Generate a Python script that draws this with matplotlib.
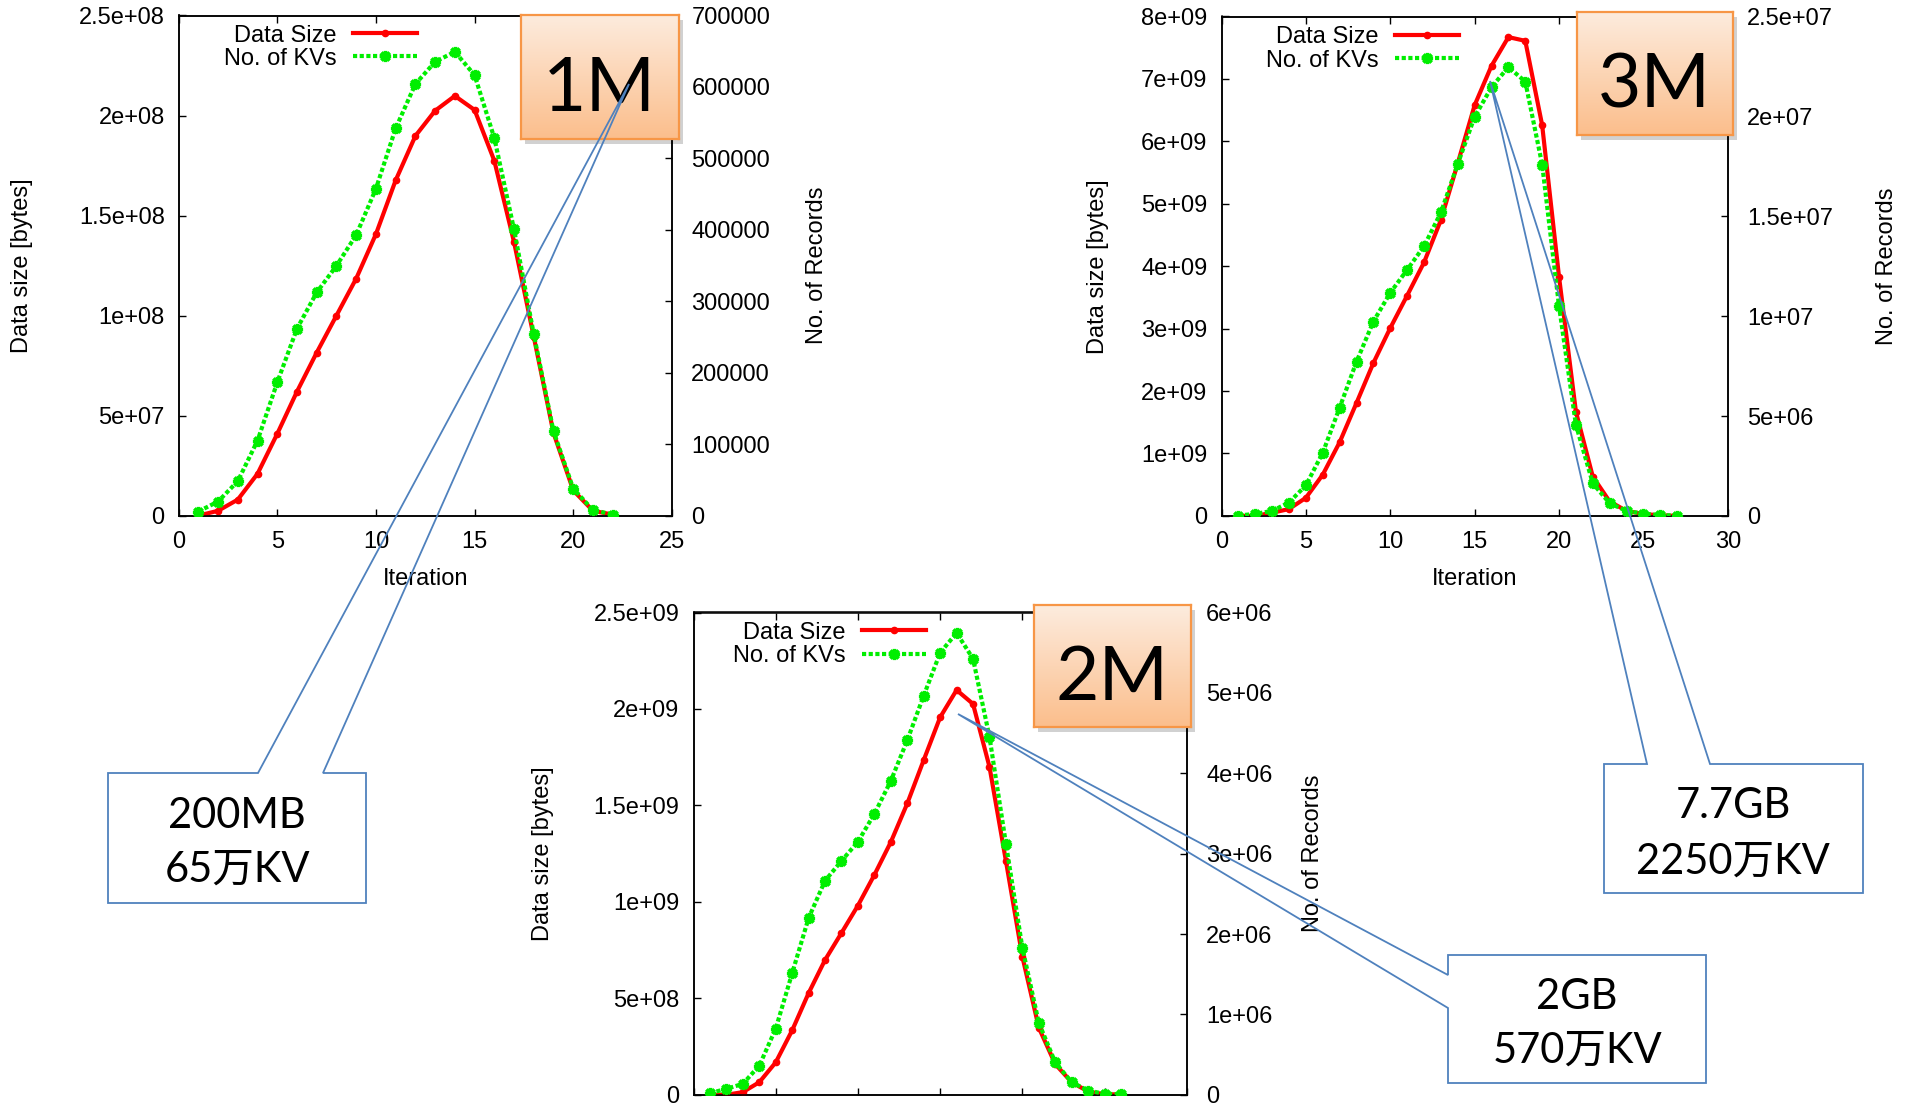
import matplotlib
matplotlib.use('Agg')
import matplotlib.pyplot as plt
import numpy as np
from matplotlib.patches import Polygon, Rectangle
from matplotlib.lines import Line2D

plt.rcParams['font.family'] = ['Liberation Sans', 'DejaVu Sans']

# ---------------- data ----------------
iter_1m = list(range(1, 23))
size_1m = [0.0, 2.4e6, 8.0e6, 2.09e7, 4.09e7, 6.2e7, 8.15e7, 1.0e8, 1.185e8, 1.407e8,
           1.676e8, 1.898e8, 2.024e8, 2.098e8, 2.028e8, 1.774e8, 1.367e8, 8.94e7,
           4.13e7, 1.26e7, 2.4e6, 0.5e6]
kv_1m = [5700, 19700, 48200, 105000, 186500, 261700, 312400, 349700, 392700, 457500,
         542000, 604100, 635200, 649200, 616600, 528500, 400500, 253900, 118100,
         37800, 7800, 1500]

iter_2m = list(range(1, 27))
size_2m = [0, 0, 0.014e9, 0.065e9, 0.168e9, 0.334e9, 0.527e9, 0.699e9, 0.839e9, 0.981e9,
           1.14e9, 1.31e9, 1.51e9, 1.735e9, 1.957e9, 2.098e9, 2.026e9, 1.70e9, 1.212e9,
           0.716e9, 0.348e9, 0.159e9, 0.065e9, 0.017e9, 0.003e9, 0.002e9]
kv_2m = [0.02e6, 0.074e6, 0.136e6, 0.362e6, 0.822e6, 1.513e6, 2.199e6, 2.663e6, 2.91e6,
         3.148e6, 3.494e6, 3.905e6, 4.41e6, 4.965e6, 5.499e6, 5.746e6, 5.425e6, 4.451e6,
         3.124e6, 1.829e6, 0.896e6, 0.403e6, 0.156e6, 0.053e6, 0.012e6, 0.008e6]

iter_3m = list(range(1, 28))
size_3m = [0, 0, 0.05e9, 0.11e9, 0.29e9, 0.66e9, 1.18e9, 1.81e9, 2.45e9, 3.01e9, 3.53e9,
           4.06e9, 4.74e9, 5.65e9, 6.58e9, 7.21e9, 7.67e9, 7.61e9, 6.26e9, 3.83e9, 1.67e9,
           0.63e9, 0.23e9, 0.08e9, 0.03e9, 0.01e9, 0]
kv_3m = [0.02e6, 0.1e6, 0.25e6, 0.67e6, 1.53e6, 3.16e6, 5.42e6, 7.72e6, 9.73e6, 11.17e6,
         12.32e6, 13.5e6, 15.19e6, 17.62e6, 19.98e6, 21.46e6, 22.47e6, 21.74e6, 17.59e6,
         10.5e6, 4.56e6, 1.63e6, 0.63e6, 0.25e6, 0.11e6, 0.04e6, 0.02e6]

yticks_1m = [0, 5e7, 1e8, 1.5e8, 2e8, 2.5e8]
ylabels_1m = ['0', '5e+07', '1e+08', '1.5e+08', '2e+08', '2.5e+08']
y2ticks_1m = [0, 1e5, 2e5, 3e5, 4e5, 5e5, 6e5, 7e5]
y2labels_1m = ['0', '100000', '200000', '300000', '400000', '500000', '600000', '700000']
xticks_1m = [0, 5, 10, 15, 20, 25]

yticks_2m = [0, 5e8, 1e9, 1.5e9, 2e9, 2.5e9]
ylabels_2m = ['0', '5e+08', '1e+09', '1.5e+09', '2e+09', '2.5e+09']
y2ticks_2m = [0, 1e6, 2e6, 3e6, 4e6, 5e6, 6e6]
y2labels_2m = ['0', '1e+06', '2e+06', '3e+06', '4e+06', '5e+06', '6e+06']
xticks_2m = [0, 5, 10, 15, 20, 25, 30]

yticks_3m = [0, 1e9, 2e9, 3e9, 4e9, 5e9, 6e9, 7e9, 8e9]
ylabels_3m = ['0', '1e+09', '2e+09', '3e+09', '4e+09', '5e+09', '6e+09', '7e+09', '8e+09']
y2ticks_3m = [0, 5e6, 1e7, 1.5e7, 2e7, 2.5e7]
y2labels_3m = ['0', '5e+06', '1e+07', '1.5e+07', '2e+07', '2.5e+07']
xticks_3m = [0, 5, 10, 15, 20, 25, 30]

series_labels = ['Data Size', 'No. of KVs']
panel_names = ['1M', '2M', '3M']
callout_lines = [('200MB', '65万KV'), ('2GB', '570万KV'), ('7.7GB', '2250万KV')]

# ---------------- figure ----------------
W, H = 1910, 1108
fig = plt.figure(figsize=(W / 100, H / 100), dpi=100)


def fx(x):
    return x / W


def fy(y):
    return 1 - y / H


def rect_px(x0, y0, x1, y1):
    return [fx(x0), fy(y1), fx(x1) - fx(x0), fy(y0) - fy(y1)]


FS = 17
RED = '#ff0000'
GREEN = '#00ee00'


def panel(px, iters, size, kv, yticks, ylabels, y2ticks, y2labels, xticks,
          show_x, leg_anchor, ylab_x, y2lab_x):
    ax = fig.add_axes(rect_px(*px))
    ax2 = ax.twinx()
    l1, = ax.plot(iters, size, color=RED, lw=3.0, marker='o', ms=4.5, zorder=3)
    l2, = ax2.plot(iters, kv, color=GREEN, lw=3.0, ls=(0, (1.0, 0.6)),
                   marker=(8, 2, 0), ms=8, mew=2.4, zorder=3,
                   dash_capstyle='butt')
    ax.set_xlim(xticks[0], xticks[-1])
    ax.set_ylim(yticks[0], yticks[-1])
    ax2.set_ylim(y2ticks[0], y2ticks[-1])
    ax.set_xticks(xticks)
    ax.set_yticks(yticks)
    ax.set_yticklabels(ylabels)
    ax2.set_yticks(y2ticks)
    ax2.set_yticklabels(y2labels)
    ax.tick_params(axis='x', direction='in', length=5, width=1, top=True,
                   labelsize=FS, pad=11, labelbottom=show_x)
    ax.tick_params(axis='y', direction='in', length=5, width=1, right=False,
                   labelsize=FS, pad=10)
    ax2.tick_params(axis='y', direction='in', length=5, width=1,
                    labelsize=FS, pad=14)
    for a in (ax, ax2):
        for s in a.spines.values():
            s.set_linewidth(1.1)
    ax.set_ylabel('Data size [bytes]', fontsize=FS)
    ax.yaxis.set_label_coords(ylab_x, 0.5)
    ax2.set_ylabel('No. of Records', fontsize=FS, rotation=90)
    ax2.yaxis.set_label_coords(y2lab_x, 0.5)
    if show_x:
        ax.set_xlabel('Iteration', fontsize=FS)
        ax.xaxis.set_label_coords(0.5, -0.104)
    ax2.legend([l1, l2], series_labels, loc='upper right', bbox_to_anchor=leg_anchor,
               markerfirst=False, frameon=False, fontsize=FS, handlelength=2.7,
               labelspacing=0.05, borderpad=0, borderaxespad=0, handletextpad=0.7)
    return ax, ax2


panel((178.6, 15.5, 671.9, 515.6), iter_1m, size_1m, kv_1m, yticks_1m, ylabels_1m,
      y2ticks_1m, y2labels_1m, xticks_1m, True, (0.483, 0.982), -0.295, 1.271)
panel((693.5, 612.5, 1186.8, 1094.8), iter_2m, size_2m, kv_2m, yticks_2m, ylabels_2m,
      y2ticks_2m, y2labels_2m, xticks_2m, False, (0.4705, 0.981), -0.282, 1.234)
panel((1221.5, 16.5, 1727.8, 515.9), iter_3m, size_3m, kv_3m, yticks_3m, ylabels_3m,
      y2ticks_3m, y2labels_3m, xticks_3m, True, (0.469, 0.980), -0.223, 1.2925)

# ---------------- orange name boxes ----------------
grad = np.linspace(0, 1, 256).reshape(-1, 1)
top_c = np.array([253, 236, 222]) / 255
bot_c = np.array([251, 190, 140]) / 255
img = top_c[None, None, :] * (1 - grad[:, :, None]) + bot_c[None, None, :] * grad[:, :, None]


def name_box(x0, y0, x1, y1, text):
    sh = Rectangle((fx(x0 + 4), fy(y1 + 5)), fx(x1) - fx(x0), fy(y0) - fy(y1),
                   transform=fig.transFigure, facecolor='#000000', alpha=0.18,
                   edgecolor='none', zorder=4)
    fig.add_artist(sh)
    bax = fig.add_axes(rect_px(x0, y0, x1, y1), zorder=5)
    bax.imshow(img, aspect='auto', extent=(0, 1, 0, 1), origin='upper')
    bax.set_xticks([])
    bax.set_yticks([])
    for s in bax.spines.values():
        s.set_color('#f79646')
        s.set_linewidth(1.6)
    bax.text(0.5, 0.40, text, transform=bax.transAxes, ha='center', va='center',
             fontsize=54, family=['Lato', 'DejaVu Sans'], color='black')


name_box(521, 14.8, 678.6, 138.9, panel_names[0])
name_box(1034, 605, 1191, 727, panel_names[1])
name_box(1576.5, 11.5, 1733, 135, panel_names[2])

# ---------------- callouts ----------------
BLUE = '#4f81bd'


def callout(verts, text_xy, lines):
    pts = [(fx(x), fy(y)) for x, y in verts]
    poly = Polygon(pts, closed=True, transform=fig.transFigure, facecolor='none',
                   edgecolor=BLUE, lw=1.3, zorder=10)
    fig.add_artist(poly)
    cx, cy1, cy2 = text_xy
    for t, yy in zip(lines, (cy1, cy2)):
        fig.text(fx(cx), fy(yy), t, ha='center', va='center', fontsize=30,
                 family=['Lato', 'Noto Sans CJK SC'], color='black', zorder=11)


callout([(108, 773), (258, 773), (629, 84), (323, 773), (366, 773), (366, 903), (108, 903)],
        (237, 816, 870), callout_lines[0])
callout([(1448, 955), (1706, 955), (1706, 1083), (1448, 1083), (1448, 1008), (958, 714),
         (1448, 975)], (1577, 997, 1051), callout_lines[1])
callout([(1604, 764), (1647, 764), (1490, 81), (1710, 764), (1863, 764), (1863, 893),
         (1604, 893)], (1733, 806, 862), callout_lines[2])

fig.savefig('out.png', dpi=100)
